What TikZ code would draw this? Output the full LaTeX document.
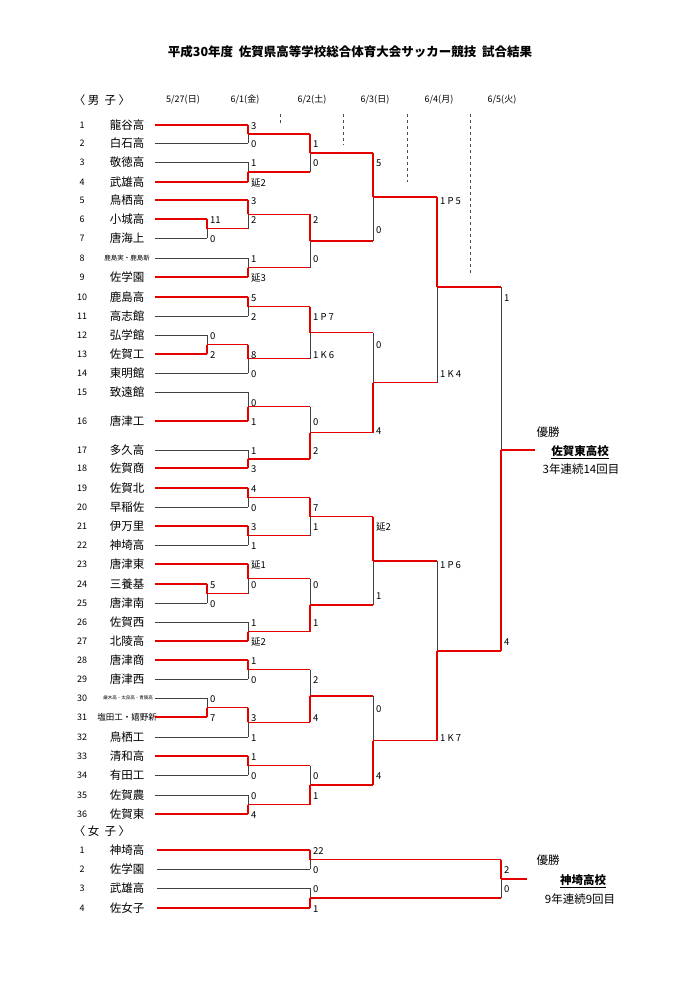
\documentclass[tikz,border=0pt]{standalone}
\usepackage{fontspec}
\setmainfont{Noto Sans CJK JP}
\newcommand\Hl[4]{\draw[#4] (#1,#3) -- (#2,#3);}
\newcommand\Vm[4]{\draw[lose] (#1,#3) -- (#1,#4); \draw[win] (#1,#2) -- (#1,#4);}
\newcommand\Sc[3]{\node[sc] at (#1+3,#2+1) {#3};}
\newcommand\Tm[4]{\node[num] at (82,#3) {#1}; \node[nm] at (127,#3) {#2};}
\newcommand\Ra[7]{\Vm{248}{#1}{#2}{#3}\Sc{248}{#4}{#5}\Sc{248}{#6}{#7}\Hl{248}{310}{#3}{win}}
\newcommand\Rb[7]{\Vm{310}{#1}{#2}{#3}\Sc{310}{#4}{#5}\Sc{310}{#6}{#7}\Hl{310}{373}{#3}{win}}
\newcommand\Rc[7]{\Vm{373}{#1}{#2}{#3}\Sc{373}{#4}{#5}\Sc{373}{#6}{#7}\Hl{373}{437}{#3}{win}}
\begin{document}
\begin{tikzpicture}[x=1pt,y=-1pt,
  win/.style={red!90!black,line width=1.4pt},
  lose/.style={black!75,line width=0.7pt},
  sc/.style={anchor=west,inner sep=0pt,font=\fontsize{9.5}{10}\selectfont},
  nm/.style={inner sep=0pt,font=\fontsize{11.5}{12}\selectfont},
  num/.style={inner sep=0pt,font=\fontsize{9}{9}\selectfont}]
\useasboundingbox (0,0) rectangle (700,990);
\fill[white] (0,0) rectangle (700,990);
\node[font=\fontsize{12.5}{13}\selectfont\bfseries] (title) at (350,52) {平成30年度\ \ 佐賀県高等学校総合体育大会サッカー競技\ \ 試合結果};
\node[nm] at (102,100) {〈 男\ \ 子 〉};
\node[num] at (183,100) {5/27(日)};
\node[num] at (245,100) {6/1(金)};
\node[num] at (312,100) {6/2(土)};
\node[num] at (375,100) {6/3(日)};
\node[num] at (439,100) {6/4(月)};
\node[num] at (502,100) {6/5(火)};
\foreach \x/\y in {280/125,343/145,407/182,470/275}
  {\draw[dashed,black!70,line width=0.6pt] (\x,114) -- (\x,\y);}
% teams
\Tm{1}{龍谷高}{125}{} \Tm{2}{白石高}{143}{} \Tm{3}{敬徳高}{162}{} \Tm{4}{武雄高}{182}{}
\Tm{5}{鳥栖高}{200}{} \Tm{6}{小城高}{219}{} \Tm{7}{唐海上}{238}{}
\node[num] at (82,258) {8}; \node[inner sep=0pt,font=\fontsize{6.5}{7}\selectfont] at (127,258) {鹿島実・鹿島新};
\Tm{9}{佐学園}{277}{} \Tm{10}{鹿島高}{297}{} \Tm{11}{高志館}{316}{} \Tm{12}{弘学館}{335}{}
\Tm{13}{佐賀工}{354}{} \Tm{14}{東明館}{373}{} \Tm{15}{致遠館}{392}{} \Tm{16}{唐津工}{421}{}
\Tm{17}{多久高}{450}{} \Tm{18}{佐賀商}{468}{} \Tm{19}{佐賀北}{488}{} \Tm{20}{早稲佐}{507}{}
\Tm{21}{伊万里}{526}{} \Tm{22}{神埼高}{545}{} \Tm{23}{唐津東}{564}{} \Tm{24}{三養基}{584}{}
\Tm{25}{唐津南}{603}{} \Tm{26}{佐賀西}{622}{} \Tm{27}{北陵高}{641}{} \Tm{28}{唐津商}{660}{}
\Tm{29}{唐津西}{679}{}
\node[num] at (82,698) {30}; \node[inner sep=0pt,font=\fontsize{4.5}{5}\selectfont] at (128,698) {厳木高・太良高・青陵高};
\node[num] at (82,717) {31}; \node[inner sep=0pt,font=\fontsize{8.5}{9}\selectfont] at (127,717) {塩田工・嬉野新};
\Tm{32}{鳥栖工}{737}{} \Tm{33}{清和高}{756}{} \Tm{34}{有田工}{775}{} \Tm{35}{佐賀農}{795}{}
\Tm{36}{佐賀東}{814}{}
% team lines
\foreach \y in {143,162,258,316,373,392,450,507,545,622,679,737,775,795}
  {\Hl{155}{248}{\y}{lose}}
\foreach \y in {238,335,603,698}
  {\Hl{155}{207}{\y}{lose}}
\foreach \y in {125,182,200,277,297,421,468,488,526,564,641,660,756,814}
  {\Hl{155}{248}{\y}{win}}
\foreach \y in {219,354,584,717} {\Hl{155}{207}{\y}{win}}
% prelims at 207
\Vm{207}{219}{238}{228.5}\Sc{207}{219}{11}\Sc{207}{238}{0}\Hl{207}{248}{228.5}{win}
\Vm{207}{354}{335}{344.5}\Sc{207}{335}{0}\Sc{207}{354}{2}\Hl{207}{248}{344.5}{win}
\Vm{207}{584}{603}{593.5}\Sc{207}{584}{5}\Sc{207}{603}{0}\Hl{207}{248}{593.5}{win}
\Vm{207}{717}{698}{707.5}\Sc{207}{698}{0}\Sc{207}{717}{7}\Hl{207}{248}{707.5}{win}
% R1
\Ra{125}{143}{134}{125}{3}{143}{0}
\Ra{182}{162}{172}{162}{1}{182}{延2}
\Ra{200}{228.5}{214.25}{200}{3}{219}{2}
\Ra{277}{258}{267.5}{258}{1}{277}{延3}
\Ra{297}{316}{306.5}{297}{5}{316}{2}
\Ra{344.5}{373}{358.75}{354}{8}{373}{0}
\Ra{421}{392}{406.5}{402}{0}{421}{1}
\Ra{468}{450}{459}{450}{1}{468}{3}
\Ra{488}{507}{497.5}{488}{4}{507}{0}
\Ra{526}{545}{535.5}{526}{3}{545}{1}
\Ra{564}{593.5}{578.75}{564}{延1}{584}{0}
\Ra{641}{622}{631.5}{622}{1}{641}{延2}
\Ra{660}{679}{669.5}{660}{1}{679}{0}
\Ra{707.5}{737}{722.25}{717}{3}{737}{1}
\Ra{756}{775}{765.5}{756}{1}{775}{0}
\Ra{814}{795}{804.5}{795}{0}{814}{4}
% R2
\Rb{134}{172}{153}{143}{1}{162}{0}
\Rb{214.25}{267.5}{240.9}{219}{2}{258}{0}
\Rb{306.5}{358.75}{332.6}{316}{1 P 7}{354}{1 K 6}
\Rb{459}{406.5}{432.75}{421}{0}{450}{2}
\Rb{497.5}{535.5}{516.5}{507}{7}{526}{1}
\Rb{631.5}{578.75}{605.1}{584}{0}{622}{1}
\Rb{722.25}{669.5}{695.9}{679}{2}{717}{4}
\Rb{804.5}{765.5}{785}{775}{0}{795}{1}
% R3
\Rc{153}{240.9}{197}{162}{5}{229}{0}
\Rc{432.75}{332.6}{382.7}{344}{0}{430}{4}
\Rc{516.5}{605.1}{560.8}{526}{延2}{595}{1}
\Rc{785}{695.9}{740.5}{708}{0}{775}{4}
% R4
\Vm{437}{197}{382.7}{287}\Sc{437}{200}{1 P 5}\Sc{437}{373}{1 K 4}\Hl{437}{501}{287}{win}
\Vm{437}{740.5}{560.8}{651}\Sc{437}{564}{1 P 6}\Sc{437}{737}{1 K 7}\Hl{437}{501}{651}{win}
% final
\Vm{501}{651}{287}{450}\Sc{501}{297}{1}\Sc{501}{641}{4}\Hl{501}{535}{450}{win}
\node[nm] at (548,432) {優勝};
\node[nm,font=\fontsize{11.5}{12}\selectfont\bfseries] (w1) at (580,451) {佐賀東高校};
\draw[line width=0.7pt] ([yshift=-1.5pt]w1.south west) -- ([yshift=-1.5pt]w1.south east);
\node[nm] at (581,469) {3年連続14回目};
% women
\node[nm] at (102,831) {〈 女\ \ 子 〉};
\Tm{1}{神埼高}{850}{} \Tm{2}{佐学園}{869}{} \Tm{3}{武雄高}{888}{} \Tm{4}{佐女子}{908}{}
\Hl{157}{310}{850}{win}\Hl{157}{310}{869}{lose}\Hl{157}{310}{888}{lose}\Hl{157}{310}{908}{win}
\Vm{310}{850}{869}{859.5}\Sc{310}{850}{22}\Sc{310}{869}{0}\Hl{310}{501}{859.5}{win}
\Vm{310}{908}{888}{898}\Sc{310}{888}{0}\Sc{310}{908}{1}\Hl{310}{501}{898}{win}
\Vm{501}{859.5}{898}{879}\Sc{501}{869}{2}\Sc{501}{888}{0}\Hl{501}{527}{879}{win}
\node[nm] at (548,860) {優勝};
\node[nm,font=\fontsize{11.5}{12}\selectfont\bfseries] (w2) at (583,880) {神埼高校};
\draw[line width=0.7pt] ([yshift=-1.5pt]w2.south west) -- ([yshift=-1.5pt]w2.south east);
\node[nm] at (580,899) {9年連続9回目};
\end{tikzpicture}
\end{document}
